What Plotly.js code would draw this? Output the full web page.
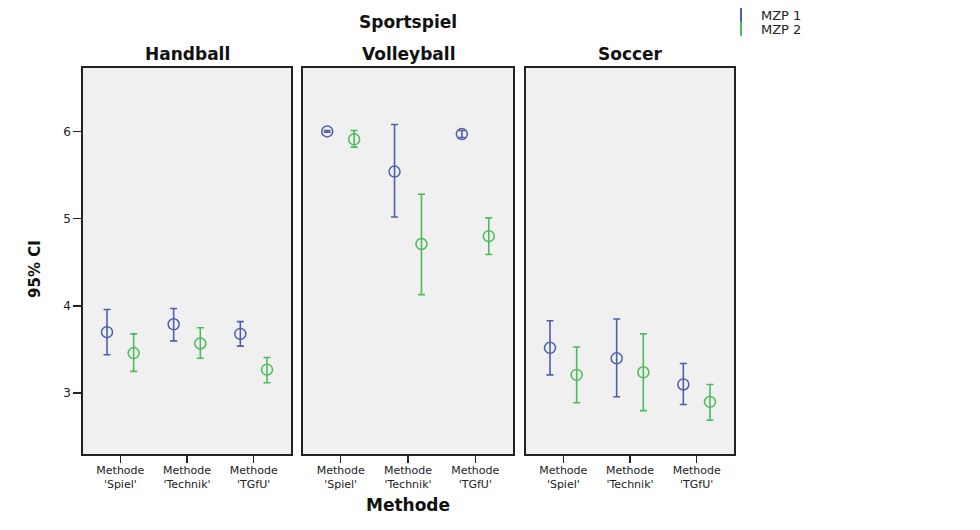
<!DOCTYPE html>
<html>
<head>
<meta charset="utf-8">
<script src="https://cdn.plot.ly/plotly-3.0.1.min.js"></script>
<style>html,body{margin:0;padding:0;background:#fff;}#chart{width:980px;height:530px;}</style>
</head>
<body>
<div id="chart"></div>
<script>
// Data
const sports = ["Handball", "Volleyball", "Soccer"];
const methods = ["Methode<br>'Spiel'", "Methode<br>'Technik'", "Methode<br>'TGfU'"];
const seriesNames = ["MZP 1", "MZP 2"];

// mean, lower CI, upper CI per sport, per method
const mzp1Mean  = [[3.70, 3.79, 3.68], [6.00, 5.54, 5.97], [3.52, 3.40, 3.10]];
const mzp1Lower = [[3.44, 3.60, 3.54], [5.99, 5.02, 5.93], [3.21, 2.96, 2.87]];
const mzp1Upper = [[3.96, 3.97, 3.82], [6.01, 6.08, 6.01], [3.83, 3.85, 3.34]];

const mzp2Mean  = [[3.46, 3.57, 3.27], [5.91, 4.71, 4.80], [3.21, 3.24, 2.90]];
const mzp2Lower = [[3.25, 3.40, 3.12], [5.82, 4.13, 4.59], [2.89, 2.80, 2.69]];
const mzp2Upper = [[3.68, 3.75, 3.41], [6.01, 5.28, 5.01], [3.53, 3.68, 3.10]];

const yTicks = [3, 4, 5, 6];

const colors = ["#4f5fae", "#4dbb5b"];
const offsets = [-0.2, 0.2];
const means = [mzp1Mean, mzp2Mean];
const lowers = [mzp1Lower, mzp2Lower];
const uppers = [mzp1Upper, mzp2Upper];

const font = "DejaVu Sans, Verdana, sans-serif";
const traces = [];
sports.forEach((sp, p) => {
  const ax = p === 0 ? "" : String(p + 1);
  for (let s = 0; s < 2; s++) {
    const m = means[s][p];
    traces.push({
      type: "scatter", mode: "markers",
      x: methods.map((_, i) => i + offsets[s]),
      y: m,
      xaxis: "x" + ax, yaxis: "y" + ax,
      showlegend: false,
      name: seriesNames[s],
      marker: {symbol: "circle-open", size: 11, color: colors[s], line: {width: 1.5, color: colors[s]}},
      error_y: {
        type: "data", symmetric: false,
        array: m.map((v, i) => uppers[s][p][i] - v),
        arrayminus: m.map((v, i) => v - lowers[s][p][i]),
        color: colors[s], thickness: 1.6, width: 3.5
      }
    });
  }
});
// legend entries (one legend box per series so the rows sit tight together)
for (let s = 0; s < 2; s++) {
  traces.push({
    type: "scatter", mode: "markers", x: [null], y: [null],
    name: seriesNames[s], showlegend: true,
    legend: s === 0 ? "legend" : "legend2",
    marker: {symbol: "line-ns-open", size: 10, color: colors[s], line: {width: 2, color: colors[s]}}
  });
}

const W = 980, H = 530;
const panelsPx = [[83, 291], [303, 513], [526, 734]];
const yDom = [1 - 454 / H, 1 - 66 / H];
const legFont = {family: font, size: 13, color: "#222"};
const layout = {
  width: W, height: H,
  margin: {l: 0, r: 0, t: 0, b: 0},
  paper_bgcolor: "#ffffff",
  plot_bgcolor: "#f0f0f0",
  font: {family: font, size: 12, color: "#222"},
  showlegend: true,
  legend: {x: 721 / W, y: 1 - 13 / H, xanchor: "left", yanchor: "middle",
           font: legFont, itemwidth: 30, bgcolor: "rgba(0,0,0,0)", borderwidth: 0},
  legend2: {x: 721 / W, y: 1 - 27 / H, xanchor: "left", yanchor: "middle",
           font: legFont, itemwidth: 30, bgcolor: "rgba(0,0,0,0)", borderwidth: 0},
  annotations: []
};
panelsPx.forEach((px, p) => {
  const ax = p === 0 ? "" : String(p + 1);
  layout["xaxis" + ax] = {
    domain: [px[0] / W, px[1] / W], range: [-0.56, 2.56],
    tickvals: methods.map((_, i) => i), ticktext: methods,
    ticks: "outside", ticklen: 7, tickwidth: 1.5, tickcolor: "#222",
    ticklabelstandoff: -2,
    showline: true, mirror: true, linecolor: "#222", linewidth: 1.6,
    showgrid: false, zeroline: false, fixedrange: true,
    tickfont: {family: font, size: 11, color: "#222"}
  };
  layout["yaxis" + ax] = {
    domain: yDom, range: [2.3, 6.73], anchor: "x" + ax,
    tickvals: yTicks, ticktext: yTicks.map(String),
    ticks: p === 0 ? "outside" : "", ticklen: 8, tickwidth: 1.5, tickcolor: "#222",
    showticklabels: p === 0,
    showline: true, mirror: true, linecolor: "#222", linewidth: 1.6,
    showgrid: false, zeroline: false, fixedrange: true,
    tickfont: {family: font, size: 12, color: "#222"}
  };
  layout.annotations.push({
    text: "<b>" + sports[p] + "</b>", xref: "paper", yref: "paper",
    x: (px[0] + px[1]) / 2 / W, y: 1 - 52 / H, xanchor: "center", yanchor: "middle",
    showarrow: false, font: {family: font, size: 17, color: "#111"}
  });
});
layout.annotations.push({
  text: "<b>Sportspiel</b>", xref: "paper", yref: "paper",
  x: 408 / W, y: 1 - 20 / H, xanchor: "center", yanchor: "middle",
  showarrow: false, font: {family: font, size: 17, color: "#111"}
});
layout.annotations.push({
  text: "<b>Methode</b>", xref: "paper", yref: "paper",
  x: 408 / W, y: 1 - 505 / H, xanchor: "center", yanchor: "middle",
  showarrow: false, font: {family: font, size: 17, color: "#111"}
});
layout.annotations.push({
  text: "<b>95% CI</b>", xref: "paper", yref: "paper",
  x: 35 / W, y: 1 - 268 / H, xanchor: "center", yanchor: "middle", textangle: -90,
  showarrow: false, font: {family: font, size: 15, color: "#111"}
});

Plotly.newPlot("chart", traces, layout, {displayModeBar: false, staticPlot: true});
</script>
</body>
</html>
